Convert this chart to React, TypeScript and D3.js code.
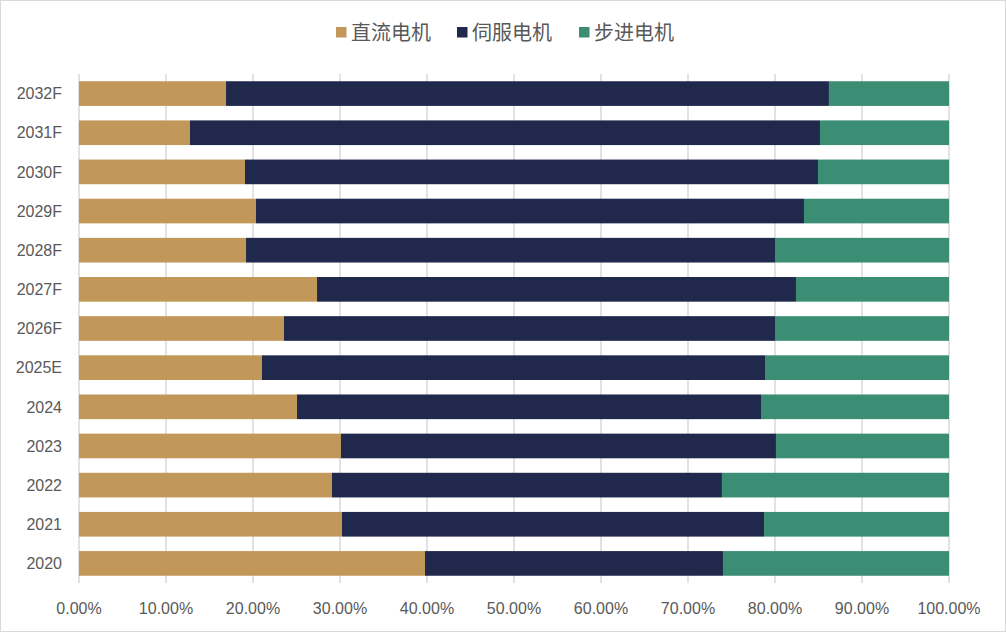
import React from "react";
import * as d3 from "d3";

const categories = ["2032F","2031F","2030F","2029F","2028F","2027F","2026F","2025E","2024","2023","2022","2021","2020"];
// cumulative boundaries (percent)
const dcEnd = [16.9, 12.76, 19.08, 20.34, 19.2, 27.36, 23.56, 21.03, 25.06, 30.11, 29.08, 30.23, 39.77];
const servoEnd = [86.2, 85.17, 84.94, 83.33, 80.0, 82.41, 80.0, 78.85, 78.39, 80.11, 73.9, 78.74, 74.02];
const dcShare = dcEnd;
const servoShare = servoEnd.map((v, i) => +(v - dcEnd[i]).toFixed(2));
const stepperShare = servoEnd.map((v) => +(100 - v).toFixed(2));
const seriesNames = ["直流电机", "伺服电机", "步进电机"];
const seriesColors = ["#C1985A", "#20284B", "#3B8E73"];
const xTicks = [0, 10, 20, 30, 40, 50, 60, 70, 80, 90, 100];

const W = 1006, H = 632;
const margin = { left: 79, right: 57, top: 74, bottom: 49 };

export default function App() {
  const x = d3.scaleLinear().domain([0, 100]).range([margin.left, W - margin.right]);
  const y = d3.scaleBand().domain(categories).range([margin.top, H - margin.bottom]).paddingInner(0.37).paddingOuter(0.185);
  const rows = categories.map((c, i) => ({ cat: c, "直流电机": dcShare[i], "伺服电机": servoShare[i], "步进电机": stepperShare[i] }));
  const stack = d3.stack<any>().keys(seriesNames)(rows);
  const legendX = [336, 457, 579];
  const font = "'Liberation Sans', Arial, sans-serif";
  return (
    <div style={{ position: "absolute", left: 0, top: 0 }}>
      <svg width={W} height={H} style={{ display: "block" }}>
        <rect x={0.5} y={0.5} width={W - 1} height={H - 1} fill="#fff" stroke="#d9d9d9" />
        {xTicks.map((t) => (
          <line key={t} x1={x(t)} x2={x(t)} y1={margin.top} y2={H - margin.bottom} stroke="#d9d9d9" strokeWidth={1.5} />
        ))}
        {stack.map((s, si) => (
          <g key={si} fill={seriesColors[si]}>
            {s.map((d, i) => (
              <rect key={i} x={x(d[0])} y={y(categories[i])} width={x(d[1]) - x(d[0])} height={y.bandwidth()} />
            ))}
          </g>
        ))}
        {categories.map((c) => (
          <text key={c} x={62} y={(y(c) as number) + y.bandwidth() / 2} dy="0.36em" textAnchor="end" fontFamily={font} fontSize={16} fill="#595959">{c}</text>
        ))}
        {xTicks.map((t) => (
          <text key={t} x={x(t)} y={608} dy="0.36em" textAnchor="middle" fontFamily={font} fontSize={16} fill="#595959">{t.toFixed(2)}%</text>
        ))}
        {seriesNames.map((n, i) => (
          <g key={n}>
            <rect x={legendX[i]} y={27} width={10.5} height={10.5} fill={seriesColors[i]} />
            <text x={legendX[i] + 15} y={32.5} dy="0.36em" fontFamily="'Noto Sans CJK SC', sans-serif" fontSize={20} fill="#595959">{n}</text>
          </g>
        ))}
      </svg>
    </div>
  );
}
